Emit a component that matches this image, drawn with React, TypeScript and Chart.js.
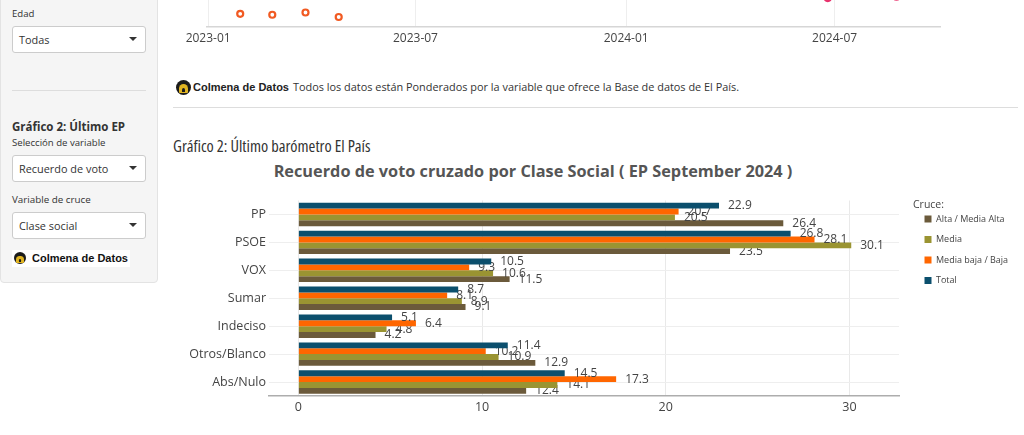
import React, { useEffect, useRef } from 'react';
import { Chart, registerables } from 'chart.js';

Chart.register(...registerables);

const FONT = "'Open Sans', sans-serif";

// ---------- Gráfico 1 (parte inferior visible) ----------
const timeTickDays = [0, 181, 365, 547];
const timeTickLabels = ['2023-01', '2023-07', '2024-01', '2024-07'];
const orangeDays = [28, 56, 85, 114];
const orangeValues = [2.8, 2.6, 3.1, 2.1];
const pinkDays = [541, 601];
const pinkValues = [6.3, 6.6];

// ---------- Gráfico 2: Último barómetro ----------
const partidos = ['PP', 'PSOE', 'VOX', 'Sumar', 'Indeciso', 'Otros/Blanco', 'Abs/Nulo'];
const totalValues = [22.9, 26.8, 10.5, 8.7, 5.1, 11.4, 14.5];
const mediaBajaValues = [20.7, 28.1, 9.3, 8.1, 6.4, 10.2, 17.3];
const mediaValues = [20.5, 30.1, 10.6, 8.9, 4.8, 10.9, 14.1];
const altaValues = [26.4, 23.5, 11.5, 9.1, 4.2, 12.9, 12.4];
const seriesNames = ['Total', 'Media baja / Baja', 'Media', 'Alta / Media Alta'];
const seriesColors = ['#0b4f6d', '#ff6600', '#9a9432', '#6b5a3b'];
const barTicks = [0, 10, 20, 30];

function TimeChart() {
  const ref = useRef<HTMLCanvasElement>(null);
  useEffect(() => {
    const chart = new Chart(ref.current!, {
      type: 'scatter',
      data: {
        datasets: [
          {
            data: orangeDays.map((d, i) => ({ x: d, y: orangeValues[i] })),
            pointRadius: 3,
            pointBorderWidth: 2.2,
            pointBorderColor: '#f15a22',
            pointBackgroundColor: '#ffffff',
          },
          {
            data: pinkDays.map((d, i) => ({ x: d, y: pinkValues[i] })),
            pointRadius: 3,
            pointBorderWidth: 2.2,
            pointBorderColor: '#e8336d',
            pointBackgroundColor: '#ffffff',
          },
        ],
      },
      options: {
        animation: false,
        responsive: false,
        layout: { padding: { left: 37, right: 30, top: 10, bottom: 0 } },
        plugins: { legend: { display: false }, tooltip: { enabled: false } },
        scales: {
          x: {
            type: 'linear',
            min: -1,
            max: 639,
            afterBuildTicks: (s: any) => {
              s.ticks = timeTickDays.map((v) => ({ value: v }));
            },
            afterFit: (s: any) => {
              s.height = 23.5;
            },
            ticks: {
              callback: (_v: any, i: number) => timeTickLabels[i],
              color: '#444',
              font: { family: FONT, size: 12 },
              padding: 5,
              maxRotation: 0,
              autoSkip: false,
            },
            grid: { color: '#eeeeee', drawTicks: false },
            border: { color: '#d6d6d6', width: 1.5 },
          },
          y: { display: false, min: 0, max: 28 },
        },
      },
    });
    return () => chart.destroy();
  }, []);
  return (
    <canvas
      ref={ref}
      width={800}
      height={160}
      style={{ position: 'absolute', left: 170, top: -110, width: 800, height: 160 }}
    />
  );
}

function BarChart() {
  const ref = useRef<HTMLCanvasElement>(null);
  useEffect(() => {
    const values = [totalValues, mediaBajaValues, mediaValues, altaValues];
    const labelPlugin = {
      id: 'barValueLabels',
      afterDatasetDraw(chart: any, args: any) {
        const ctx = chart.ctx;
        const ds = chart.data.datasets[args.index];
        ctx.save();
        ctx.font = `12px ${FONT}`;
        ctx.fillStyle = '#444';
        ctx.textBaseline = 'middle';
        ctx.textAlign = 'left';
        args.meta.data.forEach((el: any, j: number) => {
          const v = ds.data[j] as number;
          ctx.fillText(v.toFixed(1), el.x + 9, el.y);
        });
        ctx.restore();
      },
    };
    const chart = new Chart(ref.current!, {
      type: 'bar',
      data: {
        labels: partidos,
        datasets: seriesNames.map((name, i) => ({
          label: name,
          data: values[i],
          backgroundColor: seriesColors[i],
          borderWidth: 0,
          categoryPercentage: 0.84,
          barPercentage: 1,
        })),
      },
      plugins: [labelPlugin],
      options: {
        indexAxis: 'y',
        animation: false,
        responsive: false,
        layout: { padding: { left: 0, right: 11, top: 5, bottom: 0 } },
        plugins: {
          tooltip: { enabled: false },
          legend: {
            position: 'right',
            align: 'start',
            reverse: true,
            maxWidth: 100,
            title: {
              display: true,
              text: 'Cruce:',
              position: 'start',
              color: '#444',
              font: { family: FONT, size: 10.5, lineHeight: '3.25px' },
              padding: { top: 4.75, bottom: 0 },
            },
            labels: {
              boxWidth: 7,
              boxHeight: 7,
              padding: 11.5,
              color: '#444',
              font: { family: FONT, size: 9 },
            },
          },
        },
        scales: {
          x: {
            type: 'linear',
            min: -1.6,
            max: 32.7,
            afterBuildTicks: (s: any) => {
              s.ticks = barTicks.map((v) => ({ value: v }));
            },
            afterFit: (s: any) => {
              s.height = 39;
            },
            ticks: {
              color: '#444',
              font: { family: FONT, size: 12.5 },
              padding: 4,
              maxRotation: 0,
            },
            grid: { color: '#e9e9e9', drawTicks: false },
            border: { color: '#adadad', width: 1.5 },
          },
          y: {
            type: 'category',
            afterFit: (s: any) => {
              s.width = 96;
            },
            ticks: {
              color: '#444',
              font: { family: FONT, size: 12.5 },
              padding: 3,
            },
            grid: { color: '#eeeeee', drawTicks: false, offset: false },
            border: { display: false },
          },
          yPad: {
            type: 'linear',
            axis: 'y',
            position: 'right',
            display: true,
            grid: { display: false },
            ticks: { display: false },
            border: { display: false },
            afterFit: (s: any) => {
              s.width = 14;
            },
          },
        },
      } as any,
    });
    return () => chart.destroy();
  }, []);
  return (
    <canvas
      ref={ref}
      width={851}
      height={245}
      style={{ position: 'absolute', left: 173, top: 190, width: 851, height: 245 }}
    />
  );
}

const Logo = ({ x, y, d }: { x: number; y: number; d: number }) => (
  <div
    style={{
      position: 'absolute',
      left: x - d / 2,
      top: y - d / 2,
      width: d,
      height: d,
      borderRadius: '50%',
      background: '#1b1b1b',
      overflow: 'hidden',
    }}
  >
    <div
      style={{
        position: 'absolute',
        left: d * 0.2,
        top: d * 0.3,
        width: d * 0.6,
        height: d * 0.6,
        borderRadius: '50% 50% 10% 10%',
        background: '#e0b422',
      }}
    />
    <div
      style={{
        position: 'absolute',
        left: d * 0.4,
        top: d * 0.55,
        width: d * 0.2,
        height: d * 0.25,
        borderRadius: '50% 50% 0 0',
        background: '#1b1b1b',
      }}
    />
  </div>
);

const Txt = ({
  x,
  y,
  size,
  bold,
  children,
  family,
  stretch,
  color,
}: {
  x: number;
  y: number;
  size: number;
  bold?: boolean;
  children: React.ReactNode;
  family?: string;
  stretch?: string;
  color?: string;
}) => (
  <div
    style={{
      position: 'absolute',
      left: x,
      top: y - 10,
      lineHeight: '20px',
      fontSize: size,
      fontWeight: bold ? 700 : 400,
      fontFamily: family || FONT,
      fontStretch: stretch || '100%',
      color: color || '#333',
      whiteSpace: 'nowrap',
    }}
  >
    {children}
  </div>
);

const Sel = ({ top, text }: { top: number; text: string }) => (
  <div
    style={{
      position: 'absolute',
      left: 12,
      top,
      width: 134,
      height: 27,
      boxSizing: 'border-box',
      border: '1px solid #cccccc',
      borderRadius: 3,
      background: '#ffffff',
    }}
  >
    <span
      style={{
        position: 'absolute',
        left: 6,
        top: 0,
        lineHeight: '25px',
        fontSize: 10.9,
        color: '#333',
        whiteSpace: 'nowrap',
      }}
    >
      {text}
    </span>
    <span
      style={{
        position: 'absolute',
        left: 116,
        top: 10,
        width: 0,
        height: 0,
        borderLeft: '4px solid transparent',
        borderRight: '4px solid transparent',
        borderTop: '4px solid #333',
      }}
    />
  </div>
);

export default function App() {
  return (
    <div
      style={{
        position: 'absolute',
        left: 0,
        top: 0,
        width: 1024,
        height: 435,
        overflow: 'hidden',
        background: '#ffffff',
        fontFamily: FONT,
        color: '#333',
      }}
    >
      {/* Sidebar */}
      <div
        style={{
          position: 'absolute',
          left: 0,
          top: -20,
          width: 158,
          height: 303,
          boxSizing: 'border-box',
          background: '#f5f5f5',
          border: '1px solid #e3e3e3',
          borderRadius: 4,
        }}
      />
      <Txt x={12} y={14} size={9.6}>Edad</Txt>
      <Sel top={26} text="Todas" />
      <div style={{ position: 'absolute', left: 12, top: 90, width: 134, height: 1, background: '#dddddd' }} />
      <Txt x={12} y={127} size={11.5} bold>
        Gráfico 2: Último EP
      </Txt>
      <Txt x={12} y={143} size={9.6}>Selección de variable</Txt>
      <Sel top={155} text="Recuerdo de voto" />
      <Txt x={12} y={200} size={9.8}>Variable de cruce</Txt>
      <Sel top={212} text="Clase social" />
      <div style={{ position: 'absolute', left: 12, top: 250, width: 118, height: 17, background: '#ffffff' }} />
      <Logo x={20} y={258} d={12} />
      <Txt x={32} y={258} size={11} bold family="'Liberation Sans', Arial, sans-serif" color="#111">
        Colmena de Datos
      </Txt>

      {/* Gráfico 1 (final) */}
      <TimeChart />

      {/* Nota */}
      <Logo x={183} y={87} d={15} />
      <Txt x={193} y={87} size={11} bold family="'Liberation Sans', Arial, sans-serif" color="#222">
        Colmena de Datos
      </Txt>
      <Txt x={293} y={87} size={10.9}>
        Todos los datos están Ponderados por la variable que ofrece la Base de datos de El País.
      </Txt>
      <div style={{ position: 'absolute', left: 173, top: 107, width: 845, height: 1, background: '#dddddd' }} />

      {/* Gráfico 2 */}
      <Txt x={173} y={146} size={16.4} stretch="75%">
        Gráfico 2: Último barómetro El País
      </Txt>
      <div
        style={{
          position: 'absolute',
          left: 233,
          top: 160,
          width: 600,
          textAlign: 'center',
          lineHeight: '22px',
          fontSize: 16.3,
          fontWeight: 700,
          color: '#555',
          fontFamily: FONT,
          whiteSpace: 'nowrap',
        }}
      >
        Recuerdo de voto cruzado por Clase Social ( EP September 2024 )
      </div>
      <BarChart />
    </div>
  );
}
